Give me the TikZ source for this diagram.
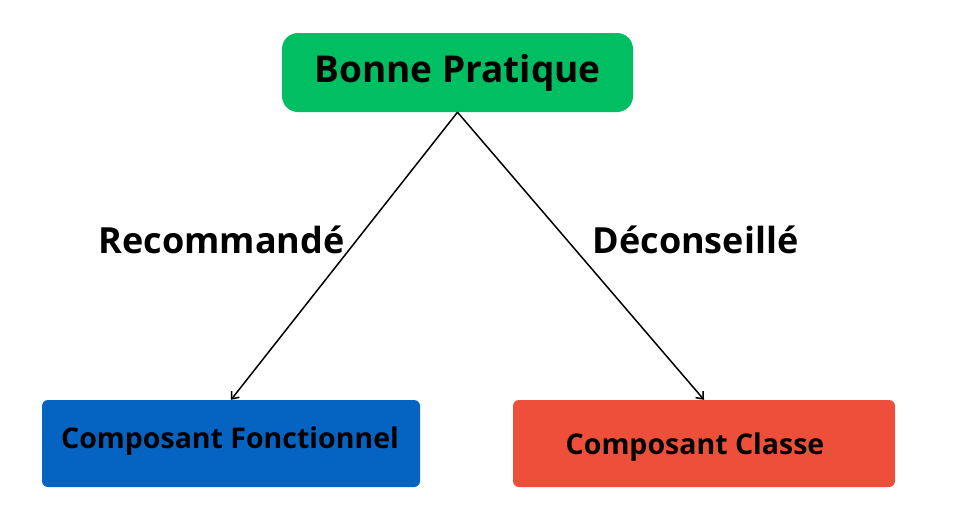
\documentclass[tikz,border=0pt]{standalone}
\usepackage{fontspec}
\setmainfont{Open Sans}
\usepackage{tikz}
\usepackage{xcolor}
\usetikzlibrary{
    arrows.meta,
    positioning
}
\definecolor{bpgreen}{HTML}{00BF63}
\definecolor{bpblue}{HTML}{0563C1}
\definecolor{bpred}{HTML}{EE4F3A}
\tikzset{
    compbox/.style={rectangle, rounded corners=6pt, minimum width=378pt, minimum height=87pt},
    comptext/.style={font=\fontsize{28.5}{34}\selectfont\bfseries, text=black},
    advice/.style={font=\fontsize{36}{42}\selectfont\bfseries, text=black},
    link/.style={draw=black, line width=1.5pt, -{Straight Barb[length=6pt,width=10pt]}}
}

\begin{document}
\begin{tikzpicture}[x=1pt, y=-1pt]
    \useasboundingbox (0, 0) rectangle (957, 528);
    \node[rectangle, rounded corners=16pt, fill=bpgreen, minimum width=351pt, minimum height=79pt,
          font=\fontsize{37}{44}\selectfont\bfseries] (bp) at (457.5, 72.5) {Bonne Pratique};
    \node[compbox, fill=bpblue,
          label={[comptext, xshift=-1pt, yshift=2pt]center:Composant Fonctionnel}] (cf) at (231, 443.5) {};
    \node[compbox, fill=bpred, minimum width=382pt,
          label={[comptext, xshift=-9pt, yshift=-4pt]center:Composant Classe}] (cc) at (704, 443.5) {};
    \node[advice] (rec) at (221.5, 240) {Recommandé};
    \node[advice] (dec) at (695.5, 240) {Déconseillé};
    \draw
    (bp.south) edge[link] (cf.north)
    (bp.south) edge[link] (cc.north);
\end{tikzpicture}
\end{document}
